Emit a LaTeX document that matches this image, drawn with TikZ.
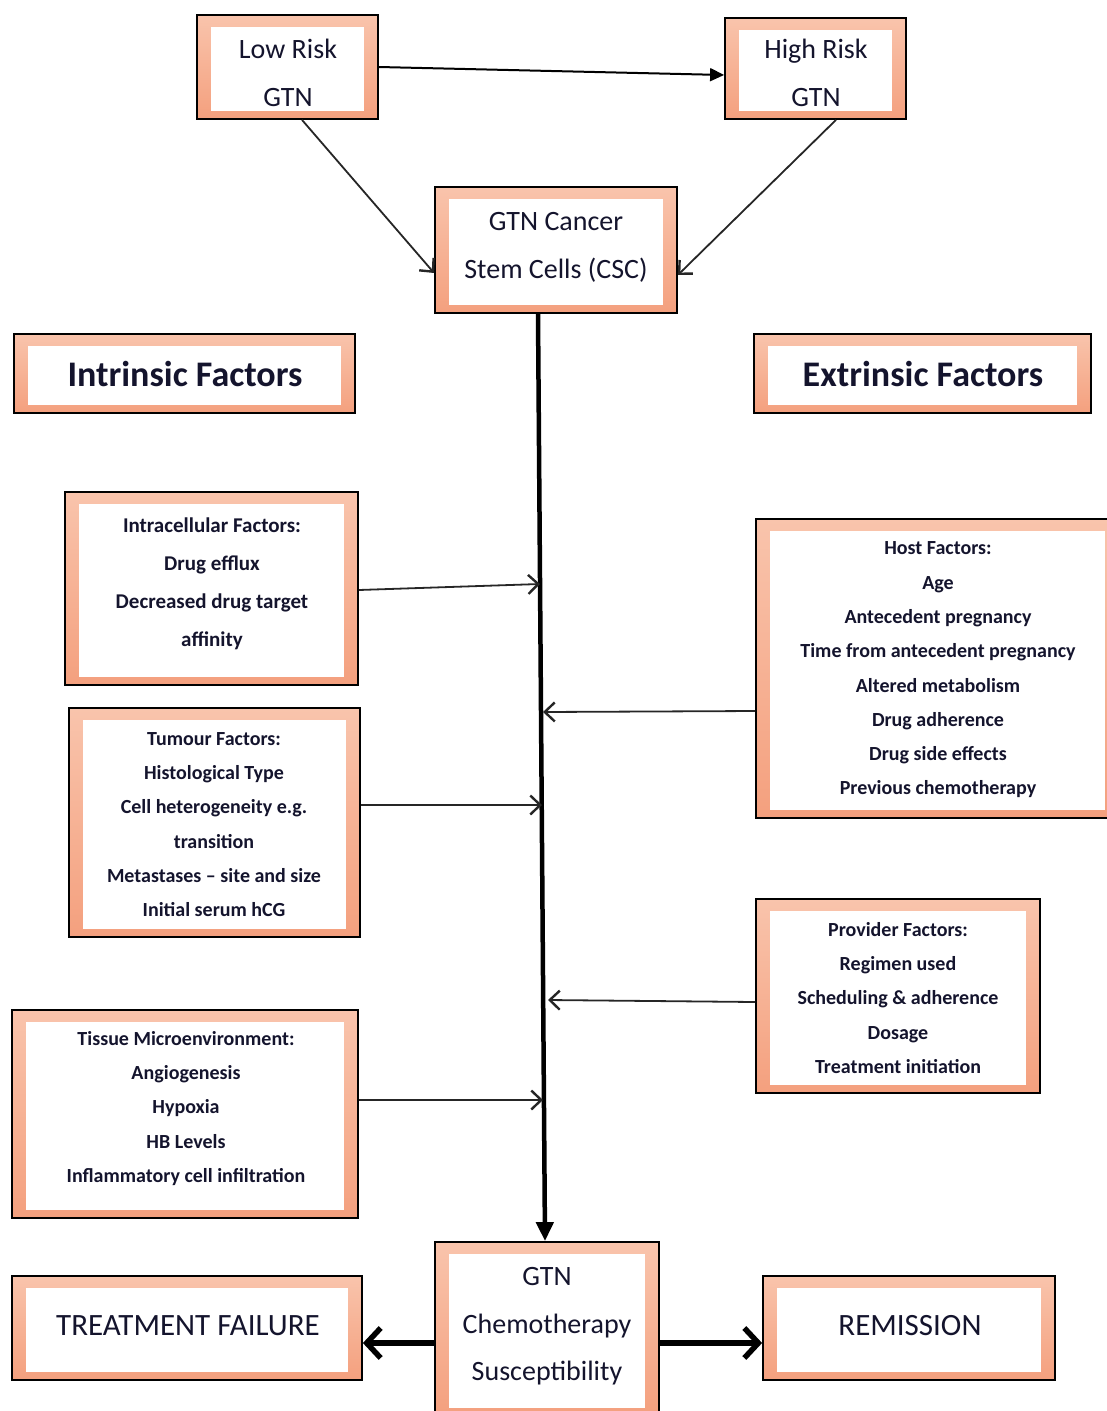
\documentclass[tikz,border=0pt]{standalone}
\usepackage{fontspec}
\setmainfont{Carlito}
\usetikzlibrary{arrows.meta}
\definecolor{boxtop}{RGB}{249,196,172}
\definecolor{boxbot}{RGB}{244,160,126}
\definecolor{txtc}{RGB}{20,20,45}
\tikzset{
  gframe/.style={draw=black, line width=1.8pt, top color=boxtop, bottom color=boxbot, inner sep=0pt,
    path picture={\fill[white] ([xshift=14pt,yshift=8pt]path picture bounding box.south west) rectangle ([xshift=-14pt,yshift=-12pt]path picture bounding box.north east);}},
  bigtxt/.style={align=center, text=txtc, font=\fontsize{28}{47.5}\selectfont},
  headtxt/.style={align=center, text=txtc, font=\fontsize{36}{40}\selectfont\bfseries},
  captxt/.style={align=center, text=txtc, font=\fontsize{31}{36}\selectfont},
  smalltxt/.style={align=center, text=txtc, font=\fontsize{20}{34.3}\selectfont\bfseries},
  midtxt/.style={align=center, text=txtc, font=\fontsize{21}{38}\selectfont\bfseries},
  thinarrow/.style={line width=1.8pt, draw=black!85, -{Straight Barb[length=10pt,width=19pt,line width=2.4pt]}},
  thickarrow/.style={line width=5.5pt, -{Straight Barb[length=14pt,width=30pt,line width=5.5pt]}},
}
\begin{document}
\begin{tikzpicture}[x=1pt,y=-1pt]
\useasboundingbox (0,0) rectangle (1107,1411);
% boxes
\node[gframe, minimum width=181pt, minimum height=104pt] (lr) at (287.5,67) {};
\node[bigtxt] at (288,73) {Low Risk\\GTN};
\node[gframe, minimum width=181pt, minimum height=101pt] (hr) at (815.5,68.5) {};
\node[bigtxt] at (816,73) {High Risk\\GTN};
\node[gframe, minimum width=242pt, minimum height=126pt] (csc) at (556,250) {};
\node[bigtxt] at (556,247.5) {GTN Cancer\\Stem Cells (CSC)};
\node[gframe, minimum width=341pt, minimum height=79pt] (intr) at (184.5,373.5) {};
\node[headtxt] at (185,374) {Intrinsic Factors};
\node[gframe, minimum width=337pt, minimum height=79pt] (extr) at (922.5,373.5) {};
\node[headtxt] at (923,374) {Extrinsic Factors};
\node[gframe, minimum width=293pt, minimum height=193pt] (intra) at (211.5,588.5) {};
\node[midtxt] at (212,583.5) {Intracellular Factors:\\Drug efflux\\Decreased drug target\\affinity};
\node[gframe, minimum width=363pt, minimum height=299pt] (host) at (937.5,668.5) {};
\node[smalltxt] at (938,670) {Host Factors:\\Age\\Antecedent pregnancy\\Time from antecedent pregnancy\\Altered metabolism\\Drug adherence\\Drug side effects\\Previous chemotherapy};
\node[gframe, minimum width=291pt, minimum height=229pt] (tum) at (214.5,822.5) {};
\node[smalltxt] at (214,824.5) {Tumour Factors:\\Histological Type\\Cell heterogeneity e.g.\\transition\\Metastases – site and size\\Initial serum hCG};
\node[gframe, minimum width=284pt, minimum height=194pt] (prov) at (898,996) {};
\node[smalltxt] at (898,998) {Provider Factors:\\Regimen used\\Scheduling \& adherence\\Dosage\\Treatment initiation};
\node[gframe, minimum width=346pt, minimum height=208pt] (tis) at (185,1114) {};
\node[smalltxt] at (186,1108.5) {Tissue Microenvironment:\\Angiogenesis\\Hypoxia\\HB Levels\\Inflammatory cell infiltration};
\node[gframe, minimum width=350pt, minimum height=104pt] (tf) at (187,1328) {};
\node[captxt] at (188,1326) {TREATMENT FAILURE};
\node[gframe, minimum width=224pt, minimum height=174pt] (chemo) at (547,1329) {};
\node[bigtxt] at (547,1326.5) {GTN\\Chemotherapy\\Susceptibility};
\node[gframe, minimum width=292pt, minimum height=104pt] (rem) at (909,1328) {};
\node[captxt] at (910,1326) {REMISSION};
% points on the main line
\coordinate (m1) at (540,584);
\coordinate (m2) at (543,712);
\coordinate (m3) at (542,805);
\coordinate (m4) at (548,1000);
\coordinate (m5) at (543,1100);
% connectors
\draw[line width=2pt, -{Triangle[length=14pt,width=13pt]}] (lr.east) -- ([yshift=-6.5pt]hr.west);
\draw[thinarrow] ([xshift=14.5pt]lr.south) -- ([yshift=-23pt]csc.west);
\draw[thinarrow] ([xshift=20.5pt]hr.south) -- ([yshift=-25pt]csc.east);
\draw[line width=4.5pt, -{Triangle[length=19pt,width=17pt]}] ([xshift=-18pt]csc.south) -- ([xshift=-2pt]chemo.north);
\draw[thinarrow] ([yshift=-1.5pt]intra.east) -- (m1);
\draw[thinarrow] ([yshift=-42.5pt]host.west) -- (m2);
\draw[thinarrow] ([yshift=17.5pt]tum.east) -- (m3);
\draw[thinarrow] ([yshift=-6pt]prov.west) -- (m4);
\draw[thinarrow] ([yshift=14pt]tis.east) -- (m5);
\draw[thickarrow] ([yshift=-14pt]chemo.west) -- ([yshift=-15pt]tf.east);
\draw[thickarrow] ([yshift=-14pt]chemo.east) -- ([yshift=-15pt]rem.west);
\end{tikzpicture}
\end{document}
